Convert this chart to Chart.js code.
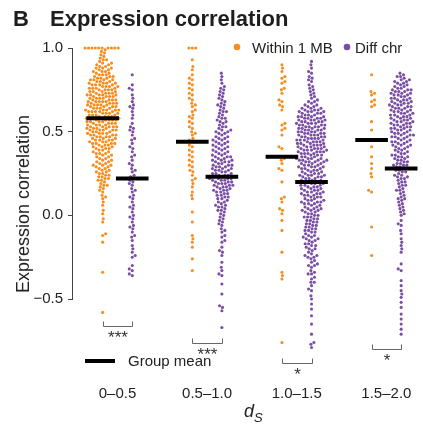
<!DOCTYPE html>
<html>
<head>
<meta charset="utf-8">
<script src="https://cdn.jsdelivr.net/npm/chart.js@4.4.1/dist/chart.umd.min.js"></script>
<style>
  html, body { margin: 0; padding: 0; background: #fff; }
  #wrap { width: 423px; height: 425px; }
</style>
</head>
<body>
<div id="wrap"><canvas id="corrChart" width="423" height="425"></canvas></div>
<script>
// ds bins on the x axis
const categories = ['0\u20130.5', '0.5\u20131.0', '1.0\u20131.5', '1.5\u20132.0'];
const yTicks = [1.0, 0.5, 0.0, -0.5];
const yTickLabels = ['1.0', '0.5', '0.0', '\u22120.5'];

// expression correlation, gene pairs within 1 MB
const within05 = [1.00,1.00,1.00,1.00,1.00,1.00,1.00,1.00,1.00,1.00,
  0.99,0.98,0.97,0.96,0.95,
  0.94,0.93,0.93,0.92,0.91,0.91,0.90,0.90,
  0.89,0.89,0.88,0.88,0.88,0.87,0.87,0.86,0.86,0.86,0.85,0.85,
  0.84,0.84,0.84,0.83,0.83,0.83,0.82,0.82,0.82,0.81,0.81,0.81,0.81,0.80,0.80,0.80,
  0.79,0.79,0.79,0.79,0.78,0.78,0.78,0.78,0.77,0.77,0.77,0.77,0.76,0.76,0.76,0.76,0.75,0.75,0.75,0.75,
  0.74,0.74,0.74,0.74,0.73,0.73,0.73,0.73,0.72,0.72,0.72,0.72,0.72,0.71,0.71,0.71,0.71,0.70,0.70,0.70,0.70,
  0.69,0.69,0.69,0.69,0.68,0.68,0.68,0.68,0.68,0.67,0.67,0.67,0.67,0.66,0.66,0.66,0.66,0.66,0.65,0.65,0.65,0.65,
  0.64,0.64,0.64,0.64,0.63,0.63,0.63,0.63,0.63,0.62,0.62,0.62,0.62,0.62,0.61,0.61,0.61,0.61,0.60,0.60,0.60,0.60,
  0.59,0.59,0.59,0.59,0.58,0.58,0.58,0.58,0.58,0.57,0.57,0.57,0.57,0.57,0.56,0.56,0.56,0.56,0.55,0.55,0.55,0.55,
  0.54,0.54,0.54,0.54,0.53,0.53,0.53,0.53,0.53,0.52,0.52,0.52,0.52,0.51,0.51,0.51,0.51,0.51,0.50,0.50,0.50,
  0.49,0.49,0.49,0.49,0.48,0.48,0.48,0.48,0.47,0.47,0.47,0.47,0.46,0.46,0.46,0.45,0.45,0.45,0.45,
  0.44,0.44,0.44,0.43,0.43,0.43,0.43,0.42,0.42,0.42,0.41,0.41,0.41,0.40,0.40,0.40,
  0.39,0.39,0.38,0.38,0.37,0.37,0.37,0.36,0.36,0.35,0.35,
  0.34,0.34,0.33,0.33,0.32,0.32,0.31,0.31,0.30,0.30,0.30,
  0.29,0.29,0.28,0.28,0.27,0.27,0.26,0.26,0.25,0.25,
  0.24,0.24,0.23,0.23,0.22,0.22,0.21,0.21,0.20,
  0.19,0.18,0.18,0.17,0.16,0.15,
  0.14,0.12,0.11,0.10,0.08,0.06,0.03,0.01,
  -0.02,-0.04,-0.11,-0.12,-0.16,-0.34,-0.58];
const within10 = [1.00,1.00,1.00,0.93,0.89,0.87,0.84,0.82,0.81,0.79,0.78,0.76,0.75,0.73,0.72,
  0.70,0.69,0.67,0.66,0.65,0.63,0.62,0.60,0.59,0.58,0.56,0.55,0.53,0.52,0.50,0.49,0.48,
  0.46,0.45,0.44,0.42,0.41,0.39,0.38,0.36,0.35,0.33,0.32,0.30,0.29,0.27,0.26,0.24,0.22,
  0.21,0.19,0.17,0.14,0.12,0.10,0.02,-0.04,-0.12,-0.14,-0.16,-0.19,-0.26,-0.33];
const within15 = [0.90,0.88,0.86,0.83,0.82,0.80,0.79,0.76,0.75,0.73,0.69,0.68,0.66,0.65,0.63,
  0.55,0.54,0.52,0.51,0.48,0.41,0.40,0.35,0.34,0.33,0.31,0.28,0.27,0.20,0.11,0.10,0.08,
  0.04,0.03,0.01,-0.03,-0.09,-0.22,-0.34,-0.36,-0.38,-0.76];
const within20 = [0.84,0.74,0.73,0.72,0.69,0.68,0.66,0.65,0.56,0.51,0.45,0.41,0.35,0.31,
  0.28,0.25,0.23,0.15,0.14,-0.07,-0.24];

// expression correlation, gene pairs on different chromosomes
const diff05 = [0.84,0.78,0.76,0.75,0.72,0.70,0.68,0.66,0.65,0.64,0.62,0.60,0.58,0.55,0.53,
  0.52,0.51,0.50,0.48,0.46,0.45,0.43,0.41,0.40,0.38,0.36,0.35,0.33,0.31,0.30,0.28,0.27,
  0.26,0.24,0.23,0.22,0.21,0.20,0.19,0.18,0.16,0.15,0.14,0.12,0.11,0.10,0.08,0.06,0.05,
  0.04,0.02,0.00,-0.01,-0.02,-0.04,-0.06,-0.07,-0.08,-0.10,-0.12,-0.13,-0.15,-0.18,
  -0.20,-0.22,-0.24,-0.25,-0.30,-0.32,-0.33,-0.35,-0.36];
const diff10 = [0.85,0.83,0.81,0.79,0.77,0.76,0.75,0.74,0.73,0.72,0.71,0.70,
  0.69,0.68,0.67,0.66,0.66,0.65,0.64,0.63,0.62,0.62,0.61,0.60,
  0.59,0.58,0.58,0.57,0.56,0.56,0.55,0.54,0.53,0.53,0.52,0.51,0.51,0.50,0.50,
  0.49,0.49,0.48,0.47,0.47,0.46,0.46,0.45,0.45,
  0.44,0.44,0.43,0.43,0.42,0.42,0.41,0.41,0.40,0.40,
  0.39,0.39,0.38,0.38,0.37,0.37,0.36,0.36,0.35,0.35,0.35,
  0.34,0.34,0.33,0.33,0.33,0.32,0.32,0.32,0.31,0.31,0.30,0.30,0.30,
  0.29,0.29,0.29,0.28,0.28,0.28,0.27,0.27,0.27,0.26,0.26,0.25,0.25,0.25,
  0.24,0.24,0.24,0.23,0.23,0.23,0.22,0.22,0.22,0.22,0.21,0.21,0.21,0.20,0.20,0.20,
  0.19,0.19,0.19,0.18,0.18,0.18,0.17,0.17,0.17,0.16,0.16,0.15,0.15,0.15,
  0.14,0.14,0.13,0.13,0.12,0.12,0.11,0.11,0.10,0.10,
  0.09,0.08,0.08,0.07,0.06,0.06,0.05,0.05,
  0.04,0.03,0.03,0.02,0.01,0.00,
  -0.01,-0.02,-0.03,-0.04,-0.05,-0.06,-0.08,-0.09,-0.10,
  -0.12,-0.13,-0.15,-0.16,-0.19,-0.21,-0.22,-0.24,
  -0.28,-0.31,-0.33,-0.35,-0.36,-0.41,-0.47,-0.54,-0.55,-0.57,-0.67];
const diff15 = [0.92,0.90,0.88,0.86,0.85,0.83,0.82,0.81,0.80,0.78,0.77,0.76,0.75,
  0.74,0.73,0.72,0.71,0.70,0.69,0.68,0.68,0.67,0.66,0.66,0.65,0.65,
  0.64,0.64,0.64,0.63,0.63,0.63,0.62,0.62,0.62,0.62,0.61,0.61,0.61,0.60,0.60,0.60,
  0.59,0.59,0.59,0.59,0.58,0.58,0.58,0.58,0.57,0.57,0.57,0.57,0.56,0.56,0.56,0.56,0.55,0.55,0.55,0.55,
  0.54,0.54,0.54,0.54,0.53,0.53,0.53,0.53,0.52,0.52,0.52,0.52,0.51,0.51,0.51,0.51,0.50,0.50,0.50,0.50,
  0.49,0.49,0.49,0.49,0.48,0.48,0.48,0.48,0.47,0.47,0.47,0.47,0.46,0.46,0.46,0.46,0.45,0.45,0.45,0.45,
  0.44,0.44,0.44,0.44,0.43,0.43,0.43,0.43,0.42,0.42,0.42,0.42,0.41,0.41,0.41,0.41,0.40,0.40,0.40,0.40,
  0.39,0.39,0.39,0.39,0.38,0.38,0.38,0.38,0.37,0.37,0.37,0.37,0.36,0.36,0.36,0.35,0.35,0.35,
  0.34,0.34,0.34,0.34,0.33,0.33,0.33,0.33,0.32,0.32,0.32,0.32,0.31,0.31,0.31,0.30,0.30,0.30,
  0.29,0.29,0.29,0.29,0.28,0.28,0.28,0.27,0.27,0.27,0.26,0.26,0.26,0.25,0.25,0.25,
  0.24,0.24,0.24,0.24,0.23,0.23,0.23,0.22,0.22,0.22,0.21,0.21,0.21,0.20,0.20,0.20,
  0.19,0.19,0.19,0.18,0.18,0.18,0.17,0.17,0.17,0.16,0.16,0.16,0.15,0.15,0.15,
  0.14,0.14,0.14,0.13,0.13,0.13,0.12,0.12,0.12,0.11,0.11,0.11,0.10,0.10,
  0.09,0.09,0.09,0.08,0.08,0.08,0.07,0.07,0.07,0.06,0.06,0.05,0.05,
  0.04,0.04,0.04,0.03,0.03,0.03,0.02,0.02,0.01,0.01,0.00,0.00,
  -0.01,-0.01,-0.01,-0.02,-0.02,-0.03,-0.03,-0.04,-0.04,-0.05,-0.05,
  -0.06,-0.06,-0.07,-0.07,-0.08,-0.08,-0.09,-0.09,-0.10,-0.10,
  -0.11,-0.12,-0.12,-0.13,-0.13,-0.14,-0.14,-0.15,-0.15,
  -0.16,-0.17,-0.17,-0.18,-0.18,-0.19,-0.20,-0.20,
  -0.21,-0.22,-0.23,-0.24,-0.24,-0.25,-0.25,
  -0.26,-0.27,-0.28,-0.29,-0.30,-0.30,
  -0.31,-0.33,-0.34,-0.35,-0.35,-0.37,-0.38,-0.40,-0.40,
  -0.42,-0.44,-0.45,-0.48,-0.50,-0.53,-0.56,-0.60,-0.65,-0.71,-0.76,-0.77,-0.79];
const diff20 = [0.85,0.84,0.83,0.83,0.82,0.81,0.81,0.80,0.80,
  0.79,0.79,0.78,0.78,0.77,0.77,0.76,0.76,0.75,0.75,0.75,
  0.74,0.74,0.74,0.73,0.73,0.73,0.72,0.72,0.72,0.71,0.71,0.70,0.70,0.70,
  0.69,0.69,0.69,0.68,0.68,0.68,0.67,0.67,0.67,0.66,0.66,0.66,0.65,0.65,0.65,
  0.64,0.64,0.64,0.63,0.63,0.63,0.62,0.62,0.62,0.61,0.61,0.61,0.60,0.60,0.60,
  0.59,0.59,0.59,0.58,0.58,0.58,0.57,0.57,0.57,0.56,0.56,0.56,0.55,0.55,0.55,
  0.54,0.54,0.54,0.53,0.53,0.53,0.52,0.52,0.52,0.51,0.51,0.51,0.50,0.50,
  0.49,0.49,0.49,0.48,0.48,0.48,0.47,0.47,0.47,0.46,0.46,0.45,0.45,
  0.44,0.44,0.44,0.43,0.43,0.42,0.42,0.42,0.41,0.41,0.40,0.40,
  0.39,0.39,0.38,0.38,0.37,0.37,0.36,0.36,0.35,0.35,0.35,
  0.34,0.34,0.33,0.33,0.32,0.32,0.31,0.31,0.30,0.30,0.30,
  0.29,0.29,0.28,0.28,0.28,0.27,0.27,0.26,0.26,0.25,
  0.24,0.24,0.23,0.23,0.22,0.22,0.21,0.20,0.20,
  0.19,0.18,0.18,0.17,0.16,0.15,0.15,
  0.14,0.13,0.12,0.11,0.10,0.10,0.09,0.08,0.07,0.06,0.05,
  0.04,0.03,0.02,0.01,0.00,
  -0.03,-0.05,-0.06,-0.09,-0.11,-0.14,-0.16,-0.18,-0.20,-0.22,
  -0.29,-0.32,-0.33,-0.39,-0.42,-0.45,-0.47,-0.49,-0.52,-0.55,-0.59,-0.62,-0.65,-0.68,-0.71];

// group means
const meanWithin = [0.58, 0.44, 0.35, 0.45];
const meanDiff = [0.22, 0.23, 0.20, 0.28];
// significance brackets
const sigStars = ['***', '***', '*', '*'];
const bracketLevel = [-0.66, -0.76, -0.88, -0.80];

const withinSeries = [within05, within10, within15, within20];
const diffSeries = [diff05, diff10, diff15, diff20];

const ORANGE = '#f68d1e';
const PURPLE = '#7b4ea6';
const FONT = '"Liberation Sans", Arial, Helvetica, sans-serif';
const SIDE = 0.165;   // offset of each series from the bin centre (x units)
const HALF = 0.182;   // half length of a mean bar (x units)
const DOT_GAP = 3.4;  // swarm spacing in px

Chart.defaults.font.family = FONT;
Chart.defaults.color = '#222';

// beeswarm offsets (px) for one column of values
function swarm(values, pxY) {
  const order = values.map((v, i) => i).sort((a, b) => values[a] - values[b]);
  const placed = [];
  const out = new Array(values.length);
  const D2 = DOT_GAP * DOT_GAP;
  order.forEach((i, n) => {
    const y = values[i] * pxY;
    const near = placed.filter(p => Math.abs(p.y - y) < DOT_GAP);
    const cands = [0];
    near.forEach(p => {
      const dx = Math.sqrt(D2 - (p.y - y) * (p.y - y));
      cands.push(p.x + dx, p.x - dx);
    });
    const flip = n % 2 ? 1 : -1;
    cands.sort((a, b) => (Math.round((Math.abs(a) - Math.abs(b)) * 1e4)) || flip * (a - b));
    let best = 0;
    for (const c of cands) {
      if (near.every(p => (p.x - c) ** 2 + (p.y - y) ** 2 >= D2 - 1e-6)) { best = c; break; }
    }
    placed.push({ x: best, y: y });
    out[i] = best;
  });
  return out;
}

var datasets = [];
categories.forEach((cat, k) => {
  var c = k + 1;
  datasets.push({
    label: 'mean within ' + cat, showLine: true, order: 0,
    data: [{ x: c - SIDE - HALF, y: meanWithin[k] }, { x: c - SIDE + HALF, y: meanWithin[k] }],
    borderColor: '#000', borderWidth: 4, pointRadius: 0, borderCapStyle: 'butt'
  });
  datasets.push({
    label: 'mean diff ' + cat, showLine: true, order: 0,
    data: [{ x: c + SIDE - HALF, y: meanDiff[k] }, { x: c + SIDE + HALF, y: meanDiff[k] }],
    borderColor: '#000', borderWidth: 4, pointRadius: 0, borderCapStyle: 'butt'
  });
});
categories.forEach((cat, k) => {
  var c = k + 1;
  datasets.push({
    label: 'Within 1 MB', order: 1, center: c - SIDE, values: withinSeries[k],
    data: withinSeries[k].map(v => ({ x: c - SIDE, y: v })),
    pointRadius: 1.55, pointBorderWidth: 0, backgroundColor: ORANGE, borderColor: ORANGE, clip: false
  });
  datasets.push({
    label: 'Diff chr', order: 1, center: c + SIDE, values: diffSeries[k],
    data: diffSeries[k].map(v => ({ x: c + SIDE, y: v })),
    pointRadius: 1.55, pointBorderWidth: 0, backgroundColor: PURPLE, borderColor: PURPLE, clip: false
  });
});

var decor = {
  id: 'decor',
  afterDraw: function (chart) {
    var ctx = chart.ctx;
    var xs = chart.scales.x, ys = chart.scales.y;
    ctx.save();

    // panel title
    ctx.fillStyle = '#1e1e1e';
    ctx.textBaseline = 'alphabetic';
    ctx.textAlign = 'left';
    ctx.font = 'bold 22px ' + FONT;
    ctx.fillText('B', 13, 26);
    ctx.fillText('Expression correlation', 50, 26);

    // range-frame y axis line
    ctx.strokeStyle = '#444';
    ctx.lineWidth = 1;
    var ax = Math.round(ys.right) - 0.5;
    ctx.beginPath();
    ctx.moveTo(ax, ys.getPixelForValue(yTicks[0]));
    ctx.lineTo(ax, ys.getPixelForValue(yTicks[yTicks.length - 1]));
    ctx.stroke();

    // y title
    ctx.save();
    ctx.translate(24, 204);
    ctx.rotate(-Math.PI / 2);
    ctx.textAlign = 'center';
    ctx.textBaseline = 'middle';
    ctx.font = '18px ' + FONT;
    ctx.fillStyle = '#222';
    ctx.fillText('Expression correlation', 0, 0);
    ctx.restore();

    // top legend
    ctx.font = '15px ' + FONT;
    ctx.textBaseline = 'alphabetic';
    ctx.fillStyle = ORANGE;
    ctx.beginPath(); ctx.arc(237, 47, 3.3, 0, Math.PI * 2); ctx.fill();
    ctx.fillStyle = '#222';
    ctx.fillText('Within 1 MB', 252, 52.5);
    ctx.fillStyle = PURPLE;
    ctx.beginPath(); ctx.arc(347, 47, 3.3, 0, Math.PI * 2); ctx.fill();
    ctx.fillStyle = '#222';
    ctx.fillText('Diff chr', 355, 52.5);

    // group mean legend
    ctx.strokeStyle = '#000';
    ctx.lineWidth = 4;
    ctx.beginPath(); ctx.moveTo(85, 361); ctx.lineTo(115, 361); ctx.stroke();
    ctx.fillText('Group mean', 128, 366);

    // significance brackets
    ctx.strokeStyle = '#666';
    ctx.lineWidth = 1;
    ctx.fillStyle = '#333';
    ctx.font = '17px ' + FONT;
    ctx.textAlign = 'center';
    categories.forEach(function (cat, k) {
      var xl = Math.round(xs.getPixelForValue(k + 1 - SIDE)) + 0.5;
      var xr = Math.round(xs.getPixelForValue(k + 1 + SIDE)) + 0.5;
      var yb = Math.round(ys.getPixelForValue(bracketLevel[k])) + 0.5;
      ctx.beginPath();
      ctx.moveTo(xl, yb - 5); ctx.lineTo(xl, yb); ctx.lineTo(xr, yb); ctx.lineTo(xr, yb - 5);
      ctx.stroke();
      ctx.fillText(sigStars[k], (xl + xr) / 2, yb + 16);
    });

    // x title d_S
    ctx.textAlign = 'left';
    ctx.fillStyle = '#222';
    ctx.font = 'italic 18px ' + FONT;
    ctx.fillText('d', 244, 417);
    ctx.font = 'italic 13px ' + FONT;
    ctx.fillText('S', 254, 422);
    ctx.restore();
  }
};

var chart = new Chart(document.getElementById('corrChart').getContext('2d'), {
  type: 'scatter',
  data: { datasets: datasets },
  options: {
    responsive: false,
    animation: false,
    events: [],
    layout: { padding: { top: 40, right: 0, bottom: 0, left: 0 } },
    plugins: { legend: { display: false }, tooltip: { enabled: false } },
    scales: {
      x: {
        type: 'linear', min: 0.504, max: 4.364,
        grid: { display: false, drawTicks: false },
        border: { display: false },
        afterBuildTicks: function (axis) { axis.ticks = categories.map(function (c, i) { return { value: i + 1 }; }); },
        afterFit: function (axis) { axis.height = 47; },
        ticks: {
          autoSkip: false, maxRotation: 0, padding: 7,
          font: { size: 15 }, color: '#222',
          callback: function (v) { return categories[v - 1]; }
        }
      },
      y: {
        type: 'linear', min: -0.972, max: 1.048,
        grid: { drawOnChartArea: false, drawTicks: true, tickLength: 5, color: '#444' },
        border: { display: false },
        afterBuildTicks: function (axis) { axis.ticks = yTicks.map(function (v) { return { value: v }; }); },
        afterFit: function (axis) { axis.width = 73; },
        ticks: {
          padding: 5, font: { size: 15 }, color: '#222',
          callback: function (v) { return yTickLabels[yTicks.indexOf(v)]; }
        }
      }
    }
  },
  plugins: [decor]
});

// lay out the swarms with the real pixel scales, then redraw
var pxX = chart.scales.x.getPixelForValue(1) - chart.scales.x.getPixelForValue(0);
var pxY = Math.abs(chart.scales.y.getPixelForValue(1) - chart.scales.y.getPixelForValue(0));
chart.data.datasets.forEach(function (ds) {
  if (!ds.values) return;
  var offs = swarm(ds.values, pxY);
  ds.data = ds.values.map(function (v, i) { return { x: ds.center + offs[i] / pxX, y: v }; });
});
chart.update('none');
</script>
</body>
</html>
